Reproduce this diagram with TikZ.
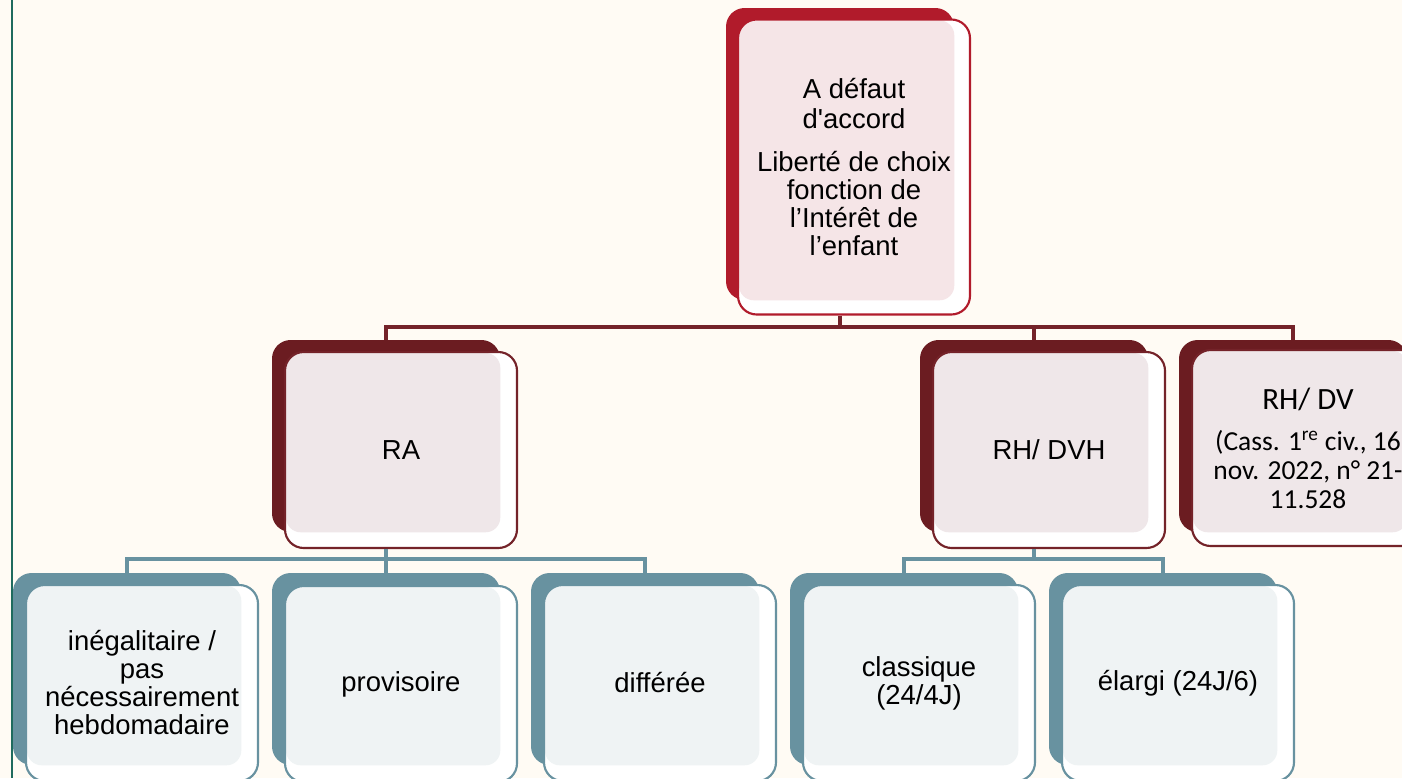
\documentclass[tikz,border=0pt]{standalone}
\usepackage{fontspec}
\setmainfont{Liberation Sans}[Ligatures=TeXOff]
\newfontfamily\calib{Carlito}[Ligatures=TeXOff]
\definecolor{pagebg}{HTML}{FFFBF4}
\definecolor{crimson}{HTML}{B11B2B}
\definecolor{crimsonlight}{HTML}{F5E5E7}
\definecolor{maroon}{HTML}{6B1C21}
\definecolor{maroonlight}{HTML}{EFE7E9}
\definecolor{maroonline}{HTML}{742329}
\definecolor{teal}{HTML}{6892A0}
\definecolor{teallight}{HTML}{EFF3F4}
\definecolor{siderule}{HTML}{1F6B5E}
\begin{document}
\begin{tikzpicture}[x=0.75pt,y=-0.75pt,
  backbox/.style={rectangle, rounded corners=14pt, inner sep=0pt,
    minimum width=171pt, minimum height=144pt, fill=#1},
  panel/.style n args={3}{rectangle, rounded corners=14pt, inner sep=0pt,
    minimum width=174pt, minimum height=147pt, fill=white, draw=#3,
    line width=1.6pt, align=center,
    font=\fontsize{20.6}{21}\selectfont,
    path picture={\fill[#2, rounded corners=11pt]
      ([shift={(1,1)}]path picture bounding box.north west)
      rectangle (#1.south east);}},
  redbus/.style={draw=maroonline, line width=2.3pt},
  tealbus/.style={draw=teal, line width=2.3pt}]
\useasboundingbox (0,0) rectangle (1402,778);
\clip (0,0) rectangle (1402,778);
\fill[pagebg] (0,0) rectangle (1402,778);
\draw[siderule, line width=1.2pt] (12,0) -- (12,778);

% root
\node[backbox=crimson, minimum height=219pt] (topb) at (840,154) {};
\node[panel={topb}{crimsonlight}{crimson}, minimum height=221.25pt] (topf) at (854,167)
  {A défaut\\[1.5pt]d'accord\\[11pt]Liberté de choix\\fonction de\\l’Intérêt de\\l’enfant};

% second level
\node[backbox=maroon] (rab) at (386,436) {};
\node[panel={rab}{maroonlight}{maroonline}] (raf) at (401,450) {RA};
\node[backbox=maroon] (dvhb) at (1034,436) {};
\node[panel={dvhb}{maroonlight}{maroonline}] (dvhf) at (1049,450) {RH/ DVH};
\node[backbox=maroon] (dvb) at (1293,436) {};
\node[panel={dvb}{maroonlight}{maroonline}, font=\calib\fontsize{20.6}{21.8}\selectfont] (dvf) at (1308,448)
  {{\fontsize{23.2}{24}\selectfont RH/ DV}\\[9pt](Cass. 1\textsuperscript{re} civ., 16\\nov. 2022, n° 21-\\11.528};

% third level
\node[backbox=teal] (c1b) at (127,669) {};
\node[panel={c1b}{teallight}{teal}] (c1f) at (142,683)
  {inégalitaire /\\pas\\nécessairement\\hebdomadaire};
\node[backbox=teal] (c2b) at (386,669) {};
\node[panel={c2b}{teallight}{teal}] (c2f) at (401,684) {provisoire};
\node[backbox=teal] (c3b) at (645,669) {};
\node[panel={c3b}{teallight}{teal}] (c3f) at (660,683) {différée};
\node[backbox=teal] (c4b) at (904,669) {};
\node[panel={c4b}{teallight}{teal}] (c4f) at (919,683) {classique\\(24/4J)};
\node[backbox=teal] (c5b) at (1163,669) {};
\node[panel={c5b}{teallight}{teal}] (c5f) at (1178,683) {élargi (24J/6)};

% connectors
\coordinate (busA) at (840,327);
\coordinate (busB) at (386,559);
\coordinate (busC) at (1034,559);
\draw[redbus] (topb.south |- topf.south) -- (busA) -| (rab.north);
\draw[redbus] (busA) -| (dvhb.north);
\draw[redbus] (busA) -| (dvb.north);
\draw[tealbus] (rab.south |- raf.south) -- (busB) -| (c1b.north);
\draw[tealbus] (busB) -| (c3b.north);
\draw[tealbus] (busB) -- (c2b.north);
\draw[tealbus] (dvhb.south |- dvhf.south) -- (busC) -| (c4b.north);
\draw[tealbus] (busC) -| (c5b.north);
\end{tikzpicture}
\end{document}
